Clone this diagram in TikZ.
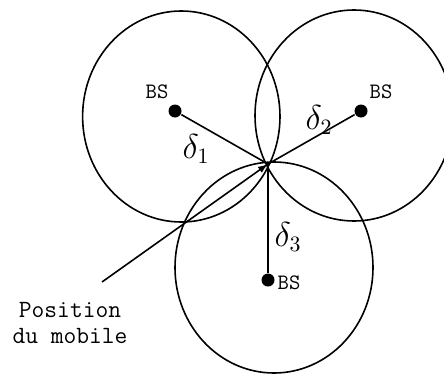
\documentclass[tikz,border=0pt]{standalone}
\usetikzlibrary{arrows.meta}

\begin{document}
\begin{tikzpicture}[x=0.5pt, y=-0.5pt, line width=0.8pt,
	bs/.style={circle, fill, inner sep=0pt, minimum size=6.5pt},
	bslabel/.style={font=\fontsize{11}{13}\selectfont\ttfamily},
	dist/.style={font=\fontsize{16}{18}\selectfont},
	arrows={-{Latex[length=5pt,width=3.6pt]}}]
	\useasboundingbox (0,0) rectangle (444,375);

% COVERAGE AREAS
	\draw (181.3,116.5) ellipse (49.35pt and 52.75pt);
	\draw (354,115.5) ellipse (49.5pt and 52.75pt);
	\draw (274,267.5) ellipse (49.5pt and 52.75pt);

% BASE STATIONS
	\node [bs] (bs1) at (175,111) {};
	\node [bs] (bs2) at (361,111) {};
	\node [bs] (bs3) at (268,280) {};
	\node [bslabel] at (157,92) {BS};
	\node [bslabel] at (381,92) {BS};
	\node [bslabel] at (289,283) {BS};

% DISTANCES
	\coordinate (pos) at (268,164);
	\draw [-] (bs1) -- (pos);
	\draw [-] (bs2) -- (pos);
	\draw [-] (bs3) -- (pos);
	\node [dist] at (196,149) {\(\delta_1\)};
	\node [dist] at (319,120) {\(\delta_2\)};
	\node [dist] at (288,237) {\(\delta_3\)};

% MOBILE
	\node [align=center, font=\fontsize{12.4}{13}\selectfont\ttfamily]
	(mobile) at (70,323) {Position\\du mobile};
	\coordinate (tail) at (102,282);
	\draw (tail) -- (pos);
\end{tikzpicture}
\end{document}
